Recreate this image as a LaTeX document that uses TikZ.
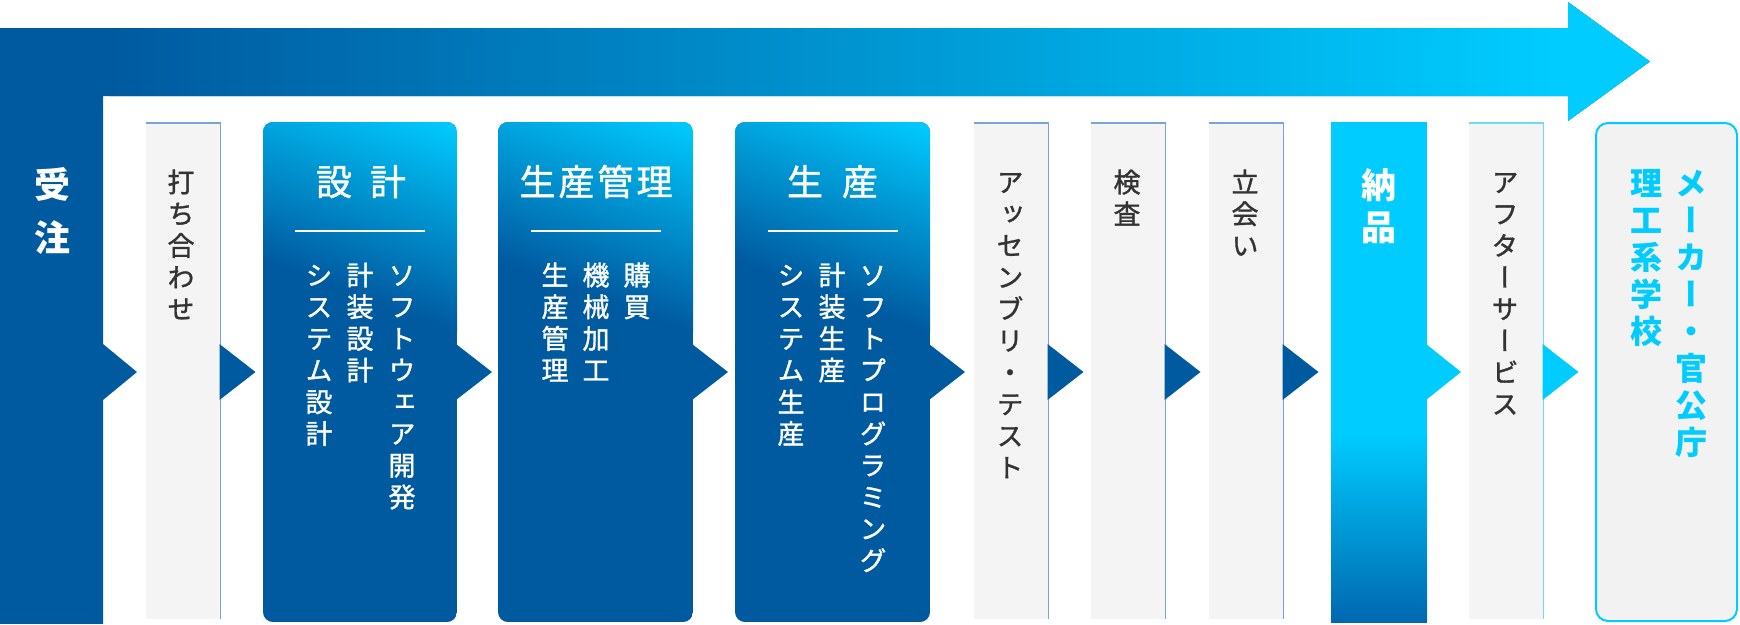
\documentclass[tikz,border=0pt]{standalone}
\usepackage{fontspec}
\newfontfamily\jp[RawFeature=+vert, UprightFeatures={FakeBold=1.2}]{Noto Sans CJK JP}
\newfontfamily\jph[UprightFeatures={FakeBold=1.2}]{Noto Sans CJK JP}
\definecolor{dk}{HTML}{005AA0}
\definecolor{cy}{HTML}{00CCFF}
\definecolor{gfill}{HTML}{F4F4F4}
\definecolor{ffill}{HTML}{F2F2F2}
\definecolor{gline}{HTML}{78A4D6}
\definecolor{cline}{HTML}{70DAF5}
\definecolor{txt}{HTML}{333333}
\definecolor{nbot}{HTML}{0068B0}
\tikzset{
  chr/.style={inner sep=0pt, anchor=base},
  graytxt/.style={chr, font=\jp\fontsize{27pt}{27pt}\selectfont, text=txt},
  whitetxt/.style={chr, font=\jp\fontsize{27pt}{27pt}\selectfont, text=white},
  boldwhite/.style={chr, font=\jp\bfseries\fontsize{#1pt}{#1pt}\selectfont, text=white},
  boldcyan/.style={chr, font=\jp\bfseries\fontsize{32pt}{32pt}\selectfont, text=cy},
  ttltxt/.style={chr, font=\jph\fontsize{36pt}{36pt}\selectfont, text=white},
  uline/.style={white, line width=1.2pt},
}
% vertical column of characters: name, x, first baseline, pitch, style, list
\newcommand\vcol[6]{%
  \foreach \c [count=\i from 0] in {#6} {\node[#5] (#1\i) at (#2, {#3+\i*#4}) {\c};}%
}
\newcommand\graycol[3]{%
  \fill[gfill] (#1,122) rectangle (#2,619);
  \draw[#3, line width=1.5pt] (#1,122.75) -- (#2-0.75,122.75) -- (#2-0.75,619);
}
\newcommand\chev[2]{%
  \fill[#2] (#1-1.5,344) -- (#1+34.5,372) -- (#1-1.5,400) -- cycle;
}
\newcommand\gbox[2]{%
  \begin{scope}
    \clip[rounded corners=10pt] (#1,122) rectangle (#2,622);
    \fill[dk] (#1,122) rectangle (#2,622);
    \begin{scope}[transform canvas={rotate around={-20.5:({(#1+#2)/2},372)}}]
      \shade[top color=cy, bottom color=dk] ({(#1+#2)/2-400},103.5) rectangle ({(#1+#2)/2+400},301.2);
    \end{scope}
  \end{scope}
  \fill[dk] (#2-1,344) -- (#2+35,372) -- (#2-1,400) -- cycle;
  \draw[uline] ({(#1+#2)/2-65},231) -- ({(#1+#2)/2+65},231);
}
\begin{document}
\begin{tikzpicture}[x=1pt,y=-1pt]
\useasboundingbox (0,0) rectangle (1740,624);
% big L arrow
\begin{scope}
  \clip (0,28) -- (1568,28) -- (1568,2) -- (1650,61.5) -- (1568,121) -- (1568,96) -- (103,96) -- (103,344) -- (137,372) -- (103,400) -- (103,624) -- (0,624) -- cycle;
  \fill[dk] (0,0) rectangle (1740,624);
  \shade[left color=dk, right color=cy] (110,0) rectangle (1555,130);
  \fill[cy] (1555,0) rectangle (1660,130);
\end{scope}
% gray columns
\graycol{146}{221}{gline}\chev{221}{dk}
\graycol{974}{1049}{gline}\chev{1049}{dk}
\graycol{1091}{1166}{gline}\chev{1166}{dk}
\graycol{1209}{1284}{gline}\chev{1284}{dk}
\graycol{1469}{1544}{cline}\chev{1544}{cy}
% gradient boxes
\gbox{263}{457}
\gbox{498}{693}
\gbox{735}{930}
% delivery column
\fill[cy] (1331,122) rectangle (1427,433.5);
\shade[top color=cy, bottom color=nbot] (1331,433) rectangle (1427,622);
\fill[cy] (1426,344) -- (1461,372) -- (1426,400) -- cycle;
% final box
\draw[cy, line width=2pt, fill=ffill, rounded corners=12pt] (1596,123) rectangle (1737,621);
% texts
\vcol{juchu}{52}{198.7}{53}{boldwhite=36}{受,注}
\vcol{uchi}{181}{192.3}{31.7}{graytxt}{打,ち,合,わ,せ}
\node[ttltxt] (sekkei) at (361,195.3) {設\hspace{18pt}計};
\vcol{sa}{402}{285.3}{31.7}{whitetxt}{ソ,フ,ト,ウ,ェ,ア,開,発}
\vcol{sb}{360}{285.3}{31.7}{whitetxt}{計,装,設,計}
\vcol{sc}{319}{285.3}{31.7}{whitetxt}{シ,ス,テ,ム,設,計}
\node[ttltxt] (kanri) at (596,195.3) {生\hspace{3pt}産\hspace{3pt}管\hspace{3pt}理};
\vcol{ka}{637}{285.3}{31.7}{whitetxt}{購,買}
\vcol{kb}{596}{285.3}{31.7}{whitetxt}{機,械,加,工}
\vcol{kc}{555}{285.3}{31.7}{whitetxt}{生,産,管,理}
\node[ttltxt] (seisan) at (832.5,195.3) {生\hspace{19pt}産};
\vcol{pa}{873}{285.3}{31.7}{whitetxt}{ソ,フ,ト,プ,ロ,グ,ラ,ミ,ン,グ}
\vcol{pb}{832}{285.3}{31.7}{whitetxt}{計,装,生,産}
\vcol{pc}{791}{285.3}{31.7}{whitetxt}{シ,ス,テ,ム,生,産}
\vcol{asm}{1010}{192.3}{31.7}{graytxt}{ア,ッ,セ,ン,ブ,リ,・,テ,ス,ト}
\vcol{ken}{1127}{192.3}{31.7}{graytxt}{検,査}
\vcol{tachi}{1245}{192.3}{31.7}{graytxt}{立,会,い}
\vcol{nou}{1379}{198.3}{42}{boldwhite=35}{納,品}
\vcol{aft}{1505}{192.3}{31.7}{graytxt}{ア,フ,タ,ー,サ,ー,ビ,ス}
\vcol{mk}{1691}{195.2}{37}{boldcyan}{メ,ー,カ,ー,・,官,公,庁}
\vcol{rk}{1646}{195.2}{37}{boldcyan}{理,工,系,学,校}
\end{tikzpicture}
\end{document}
